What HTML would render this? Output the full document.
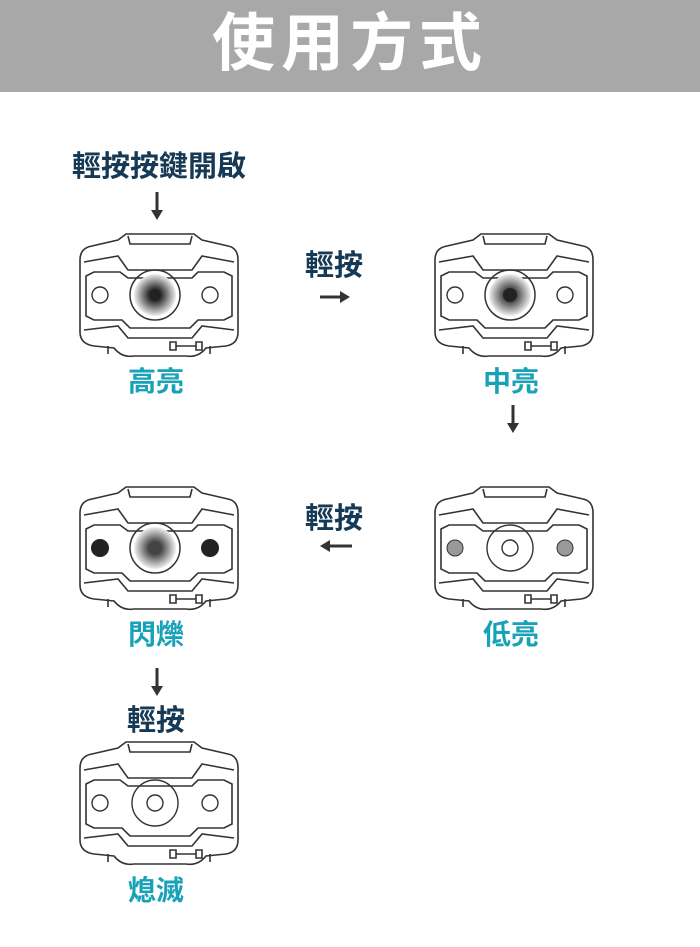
<!DOCTYPE html><html><head><meta charset="utf-8"><style>
body{margin:0;width:700px;height:947px;background:#fff;position:relative;overflow:hidden;font-family:"Liberation Sans","Noto Sans CJK TC",sans-serif}
.hd{position:absolute;left:0;top:0;width:700px;height:92px;background:#a8a8a8;color:#fff;font-size:63px;font-weight:bold;text-align:center;line-height:88px;letter-spacing:6px}
.t{position:absolute;font-weight:bold;font-size:29px;line-height:32px;color:#163a56;white-space:nowrap}
.c{position:absolute;font-weight:bold;font-size:28px;line-height:32px;color:#18a2b8;white-space:nowrap}
svg{position:absolute;left:0;top:0}
</style></head><body>
<div class="hd">使用方式</div>
<div class="t" style="left:72px;top:151px">輕按按鍵開啟</div>
<div class="t" style="left:305px;top:250px">輕按</div>
<div class="t" style="left:305px;top:503px">輕按</div>
<div class="t" style="left:127px;top:705px">輕按</div>
<div class="c" style="left:128px;top:366px">高亮</div>
<div class="c" style="left:483px;top:366px">中亮</div>
<div class="c" style="left:128px;top:619px">閃爍</div>
<div class="c" style="left:483px;top:619px">低亮</div>
<div class="c" style="left:128px;top:875px">熄滅</div>
<svg width="700" height="947" viewBox="0 0 700 947">
<defs>
<radialGradient id="g"><stop offset="0.25" stop-color="#222"/><stop offset="1" stop-color="#eee"/></radialGradient>
<radialGradient id="g2"><stop offset="0.3" stop-color="#444"/><stop offset="1" stop-color="#f0f0f0"/></radialGradient>
<g id="body" fill="none" stroke="#333" stroke-width="1.6">
<path d="M14,14 L40,8 L48,2 L116,2 L124,8 L150,14 Q160,16 160,28 L160,100 Q160,112 148,114 L128,116 Q120,126 108,124 L56,124 Q44,126 36,116 L16,114 Q2,112 2,100 L2,28 Q2,16 14,14 Z"/>
<path d="M50,4 L52,12 L112,12 L114,4"/>
<path d="M6,30 L40,24 L50,38 L114,38 L124,24 L156,30"/>
<path d="M8,44 L16,40 L42,40 L50,46 L114,46 L120,40 L146,40 L154,44 L154,84 L146,88 L120,88 L112,96 L52,96 L44,88 L16,88 L8,84 Z"/>
<path d="M6,98 L40,94 L50,106 L114,106 L124,94 L156,98"/>
<path d="M30,114 L30,122 M132,114 L132,122"/>
<path d="M92,110 L98,110 L98,118 L92,118 Z M118,110 L124,110 L124,118 L118,118 Z M98,114 L118,114"/>
</g>
<g id="sides" fill="none" stroke="#333" stroke-width="1.4"><circle cx="22" cy="63" r="8"/><circle cx="132" cy="63" r="8"/></g>
</defs>
<g transform="translate(78,232)"><use href="#body"/><use href="#sides"/><circle cx="77" cy="63" r="25" fill="none" stroke="#333" stroke-width="1.5"/><circle cx="77" cy="63" r="21" fill="url(#g)"/></g>
<g transform="translate(433,232)"><use href="#body"/><use href="#sides"/><circle cx="77" cy="63" r="25" fill="none" stroke="#333" stroke-width="1.5"/><circle cx="77" cy="63" r="21" fill="url(#g2)"/><circle cx="77" cy="63" r="7" fill="#222"/></g>
<g transform="translate(78,485)"><use href="#body"/><circle cx="77" cy="63" r="25" fill="none" stroke="#333" stroke-width="1.5"/><circle cx="77" cy="63" r="21" fill="url(#g2)"/><circle cx="22" cy="63" r="9" fill="#222"/><circle cx="132" cy="63" r="9" fill="#222"/></g>
<g transform="translate(433,485)"><use href="#body"/><circle cx="22" cy="63" r="8" fill="#999" stroke="#333"/><circle cx="132" cy="63" r="8" fill="#999" stroke="#333"/><circle cx="77" cy="63" r="23" fill="none" stroke="#333" stroke-width="1.4"/><circle cx="77" cy="63" r="8" fill="none" stroke="#333" stroke-width="1.4"/></g>
<g transform="translate(78,740)"><use href="#body"/><use href="#sides"/><circle cx="77" cy="63" r="23" fill="none" stroke="#333" stroke-width="1.4"/><circle cx="77" cy="63" r="8" fill="none" stroke="#333" stroke-width="1.4"/></g>
<g fill="#333" stroke="#333" stroke-width="3">
<line x1="157" y1="192" x2="157" y2="212"/><polygon points="151,210 163,210 157,220" stroke="none"/>
<line x1="320" y1="297" x2="342" y2="297"/><polygon points="340,291 340,303 350,297" stroke="none"/>
<line x1="513" y1="405" x2="513" y2="425"/><polygon points="507,423 519,423 513,433" stroke="none"/>
<line x1="352" y1="546" x2="328" y2="546"/><polygon points="330,540 330,552 320,546" stroke="none"/>
<line x1="157" y1="668" x2="157" y2="688"/><polygon points="151,686 163,686 157,696" stroke="none"/>
</g>
</svg>
</body></html>
